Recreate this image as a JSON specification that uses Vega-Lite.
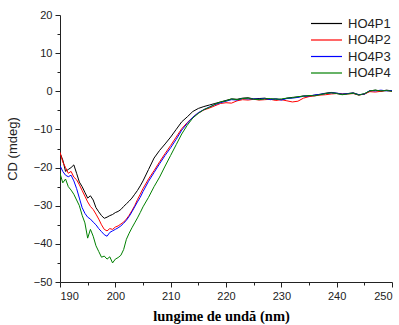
{
  "$schema": "https://vega.github.io/schema/vega-lite/v6.json",
  "width": 332,
  "height": 267,
  "autosize": "none",
  "padding": {"left": 60, "top": 15, "right": 7, "bottom": 43},
  "background": "white",
  "config": {
    "view": {"stroke": null},
    "axis": {"grid": false, "domainColor": "#222", "tickColor": "#222", "labelColor": "#222", "labelFont": "Liberation Sans", "labelFontSize": 11, "domainWidth": 1, "tickWidth": 1}
  },
  "data": {"values": [
    {"nm":190,"HO4P1":-16.2,"HO4P2":-16,"HO4P3":-19.5,"HO4P4":-21.5},
    {"nm":190.5,"HO4P1":-18,"HO4P2":-18.5,"HO4P3":-21,"HO4P4":-24},
    {"nm":191,"HO4P1":-21,"HO4P2":-20,"HO4P3":-22,"HO4P4":-23},
    {"nm":191.5,"HO4P1":-20.5,"HO4P2":-21.5,"HO4P3":-22.4,"HO4P4":-25},
    {"nm":192,"HO4P1":-20,"HO4P2":-21,"HO4P3":-22,"HO4P4":-25.9},
    {"nm":192.5,"HO4P1":-19.3,"HO4P2":-22.5,"HO4P3":-23.5,"HO4P4":-27},
    {"nm":193,"HO4P1":-21.5,"HO4P2":-23.2,"HO4P3":-25.5,"HO4P4":-28.5},
    {"nm":193.5,"HO4P1":-23.8,"HO4P2":-24.5,"HO4P3":-28,"HO4P4":-30},
    {"nm":194,"HO4P1":-25,"HO4P2":-26,"HO4P3":-30.5,"HO4P4":-32.5},
    {"nm":194.5,"HO4P1":-26.5,"HO4P2":-27.5,"HO4P3":-32,"HO4P4":-34.5},
    {"nm":195,"HO4P1":-28,"HO4P2":-29,"HO4P3":-33,"HO4P4":-38.5},
    {"nm":195.5,"HO4P1":-27.4,"HO4P2":-30.2,"HO4P3":-33.5,"HO4P4":-36.2},
    {"nm":196,"HO4P1":-28.5,"HO4P2":-31,"HO4P3":-34.3,"HO4P4":-38},
    {"nm":196.5,"HO4P1":-30.5,"HO4P2":-32.2,"HO4P3":-35,"HO4P4":-40.5},
    {"nm":197,"HO4P1":-31.6,"HO4P2":-33.5,"HO4P3":-36,"HO4P4":-42},
    {"nm":197.5,"HO4P1":-32.6,"HO4P2":-35,"HO4P3":-36.8,"HO4P4":-43.5},
    {"nm":198,"HO4P1":-33.3,"HO4P2":-36.2,"HO4P3":-37.6,"HO4P4":-43.2},
    {"nm":198.5,"HO4P1":-33,"HO4P2":-36.6,"HO4P3":-38,"HO4P4":-44},
    {"nm":199,"HO4P1":-32.6,"HO4P2":-36,"HO4P3":-37,"HO4P4":-43.4},
    {"nm":199.5,"HO4P1":-32.3,"HO4P2":-36.2,"HO4P3":-36.6,"HO4P4":-45},
    {"nm":200,"HO4P1":-31.8,"HO4P2":-35.6,"HO4P3":-36.2,"HO4P4":-44},
    {"nm":200.5,"HO4P1":-31.5,"HO4P2":-35.3,"HO4P3":-35.8,"HO4P4":-43.6},
    {"nm":201,"HO4P1":-31,"HO4P2":-34.8,"HO4P3":-35.3,"HO4P4":-43},
    {"nm":201.5,"HO4P1":-30.2,"HO4P2":-34.3,"HO4P3":-34.6,"HO4P4":-41.5},
    {"nm":202,"HO4P1":-29.5,"HO4P2":-33.5,"HO4P3":-33.8,"HO4P4":-38.8},
    {"nm":202.5,"HO4P1":-28.8,"HO4P2":-32.5,"HO4P3":-32.8,"HO4P4":-37.2},
    {"nm":203,"HO4P1":-28,"HO4P2":-31.3,"HO4P3":-31.6,"HO4P4":-35.8},
    {"nm":203.5,"HO4P1":-27,"HO4P2":-30,"HO4P3":-30.3,"HO4P4":-34.5},
    {"nm":204,"HO4P1":-26,"HO4P2":-28.4,"HO4P3":-29,"HO4P4":-33.2},
    {"nm":204.5,"HO4P1":-24.8,"HO4P2":-27,"HO4P3":-27.8,"HO4P4":-31.8},
    {"nm":205,"HO4P1":-23.5,"HO4P2":-25.5,"HO4P3":-26.3,"HO4P4":-30.3},
    {"nm":206,"HO4P1":-20.5,"HO4P2":-23,"HO4P3":-23.6,"HO4P4":-27.8},
    {"nm":207,"HO4P1":-17.5,"HO4P2":-20.8,"HO4P3":-21.3,"HO4P4":-25},
    {"nm":208,"HO4P1":-15.5,"HO4P2":-18.5,"HO4P3":-19,"HO4P4":-22.5},
    {"nm":209,"HO4P1":-13.8,"HO4P2":-16.3,"HO4P3":-16.8,"HO4P4":-19.6},
    {"nm":210,"HO4P1":-12,"HO4P2":-14.2,"HO4P3":-14.8,"HO4P4":-16.8},
    {"nm":211,"HO4P1":-10,"HO4P2":-12,"HO4P3":-12.6,"HO4P4":-14},
    {"nm":212,"HO4P1":-8,"HO4P2":-9.8,"HO4P3":-10.2,"HO4P4":-11.2},
    {"nm":213,"HO4P1":-6.7,"HO4P2":-8.2,"HO4P3":-8.4,"HO4P4":-8.9},
    {"nm":214,"HO4P1":-5.3,"HO4P2":-6.8,"HO4P3":-6.8,"HO4P4":-7},
    {"nm":215,"HO4P1":-4.5,"HO4P2":-5.7,"HO4P3":-5.6,"HO4P4":-5.8},
    {"nm":216,"HO4P1":-4,"HO4P2":-4.9,"HO4P3":-4.8,"HO4P4":-4.8},
    {"nm":217,"HO4P1":-3.6,"HO4P2":-4.4,"HO4P3":-4.1,"HO4P4":-4.2},
    {"nm":218,"HO4P1":-3.2,"HO4P2":-3.8,"HO4P3":-3.5,"HO4P4":-3.4},
    {"nm":219,"HO4P1":-2.8,"HO4P2":-3.2,"HO4P3":-3,"HO4P4":-2.8},
    {"nm":220,"HO4P1":-2.4,"HO4P2":-3,"HO4P3":-2.6,"HO4P4":-2.5},
    {"nm":221,"HO4P1":-2,"HO4P2":-3.1,"HO4P3":-2.2,"HO4P4":-2},
    {"nm":222,"HO4P1":-2.1,"HO4P2":-2.5,"HO4P3":-2.3,"HO4P4":-2.2},
    {"nm":223,"HO4P1":-1.8,"HO4P2":-2.2,"HO4P3":-1.9,"HO4P4":-1.9},
    {"nm":224,"HO4P1":-1.7,"HO4P2":-2.3,"HO4P3":-2,"HO4P4":-1.8},
    {"nm":225,"HO4P1":-2,"HO4P2":-2.1,"HO4P3":-2,"HO4P4":-2.1},
    {"nm":226,"HO4P1":-1.9,"HO4P2":-2.3,"HO4P3":-2.1,"HO4P4":-2.2},
    {"nm":227,"HO4P1":-1.8,"HO4P2":-2.2,"HO4P3":-1.9,"HO4P4":-2},
    {"nm":228,"HO4P1":-2.1,"HO4P2":-2.1,"HO4P3":-2.2,"HO4P4":-1.9},
    {"nm":229,"HO4P1":-2,"HO4P2":-2.4,"HO4P3":-2,"HO4P4":-2.1},
    {"nm":230,"HO4P1":-2.2,"HO4P2":-2.2,"HO4P3":-2.3,"HO4P4":-2},
    {"nm":231,"HO4P1":-1.8,"HO4P2":-2.5,"HO4P3":-1.9,"HO4P4":-1.8},
    {"nm":232,"HO4P1":-1.6,"HO4P2":-2.8,"HO4P3":-1.8,"HO4P4":-1.7},
    {"nm":233,"HO4P1":-1.5,"HO4P2":-2.6,"HO4P3":-1.6,"HO4P4":-1.4},
    {"nm":234,"HO4P1":-1.2,"HO4P2":-1.8,"HO4P3":-1.3,"HO4P4":-1.3},
    {"nm":235,"HO4P1":-1.3,"HO4P2":-1.4,"HO4P3":-1.2,"HO4P4":-1.1},
    {"nm":236,"HO4P1":-1,"HO4P2":-1.2,"HO4P3":-1,"HO4P4":-1.2},
    {"nm":237,"HO4P1":-0.8,"HO4P2":-1,"HO4P3":-0.8,"HO4P4":-0.9},
    {"nm":238,"HO4P1":-0.5,"HO4P2":-0.9,"HO4P3":-0.6,"HO4P4":-0.6},
    {"nm":239,"HO4P1":-0.3,"HO4P2":-0.7,"HO4P3":-0.4,"HO4P4":-0.4},
    {"nm":240,"HO4P1":-0.5,"HO4P2":-0.6,"HO4P3":-0.5,"HO4P4":-0.6},
    {"nm":241,"HO4P1":-0.7,"HO4P2":-0.8,"HO4P3":-0.8,"HO4P4":-0.9},
    {"nm":242,"HO4P1":-0.6,"HO4P2":-0.7,"HO4P3":-0.6,"HO4P4":-0.7},
    {"nm":243,"HO4P1":-0.4,"HO4P2":-0.6,"HO4P3":-0.5,"HO4P4":-0.5},
    {"nm":244,"HO4P1":-0.9,"HO4P2":-1,"HO4P3":-0.9,"HO4P4":-1},
    {"nm":245,"HO4P1":-0.8,"HO4P2":-0.7,"HO4P3":-0.7,"HO4P4":-0.6},
    {"nm":246,"HO4P1":0.1,"HO4P2":-0.1,"HO4P3":0.2,"HO4P4":0.1},
    {"nm":247,"HO4P1":0.3,"HO4P2":-0.2,"HO4P3":0.1,"HO4P4":0.3},
    {"nm":248,"HO4P1":0,"HO4P2":0,"HO4P3":0.3,"HO4P4":0.1},
    {"nm":249,"HO4P1":0.3,"HO4P2":0.2,"HO4P3":0.1,"HO4P4":0.2},
    {"nm":250,"HO4P1":0.1,"HO4P2":0,"HO4P3":0.2,"HO4P4":0}
  ]},
  "transform": [{"fold": ["HO4P1", "HO4P2", "HO4P3", "HO4P4"], "as": ["sample", "cd"]}],
  "mark": {"type": "line", "strokeWidth": 1, "clip": true},
  "encoding": {
    "x": {
      "field": "nm", "type": "quantitative",
      "scale": {"domain": [190, 250], "nice": false, "zero": false},
      "axis": {
        "values": [190,195,200,205,210,215,220,225,230,235,240,245,250],
        "labelExpr": "datum.value % 10 === 0 ? datum.label : ''",
        "tickSize": {"condition": {"test": "datum.value % 10 === 0", "value": 5}, "value": 3},
        "labelPadding": 3,
        "title": "lungime  de undă  (nm)",
        "titleFont": "Liberation Serif", "titleFontSize": 14.5, "titleFontWeight": "bold", "titleColor": "#000",
        "titlePadding": 8, "titleX": 161
      }
    },
    "y": {
      "field": "cd", "type": "quantitative",
      "scale": {"domain": [-50, 20], "nice": false, "zero": false},
      "axis": {
        "values": [-50,-45,-40,-35,-30,-25,-20,-15,-10,-5,0,5,10,15,20],
        "labelExpr": "datum.value % 10 === 0 ? datum.label : ''",
        "tickSize": {"condition": {"test": "datum.value % 10 === 0", "value": 5}, "value": 3},
        "labelPadding": 3,
        "title": "CD (mdeg)",
        "titleFont": "Liberation Sans", "titleFontSize": 13, "titleFontWeight": "normal", "titleColor": "#222",
        "titlePadding": 14
      }
    },
    "color": {
      "field": "sample", "type": "nominal",
      "scale": {"domain": ["HO4P1", "HO4P2", "HO4P3", "HO4P4"], "range": ["#000000", "#ff0000", "#0000ff", "#008000"]},
      "legend": {
        "title": null, "orient": "none", "legendX": 258, "legendY": 0,
        "symbolType": "M-2,0H2", "symbolSize": 240, "symbolStrokeWidth": 1.2,
        "labelFont": "Liberation Sans", "labelFontSize": 13, "labelColor": "#222",
        "rowPadding": 0.5, "labelOffset": 13
      }
    }
  }
}
